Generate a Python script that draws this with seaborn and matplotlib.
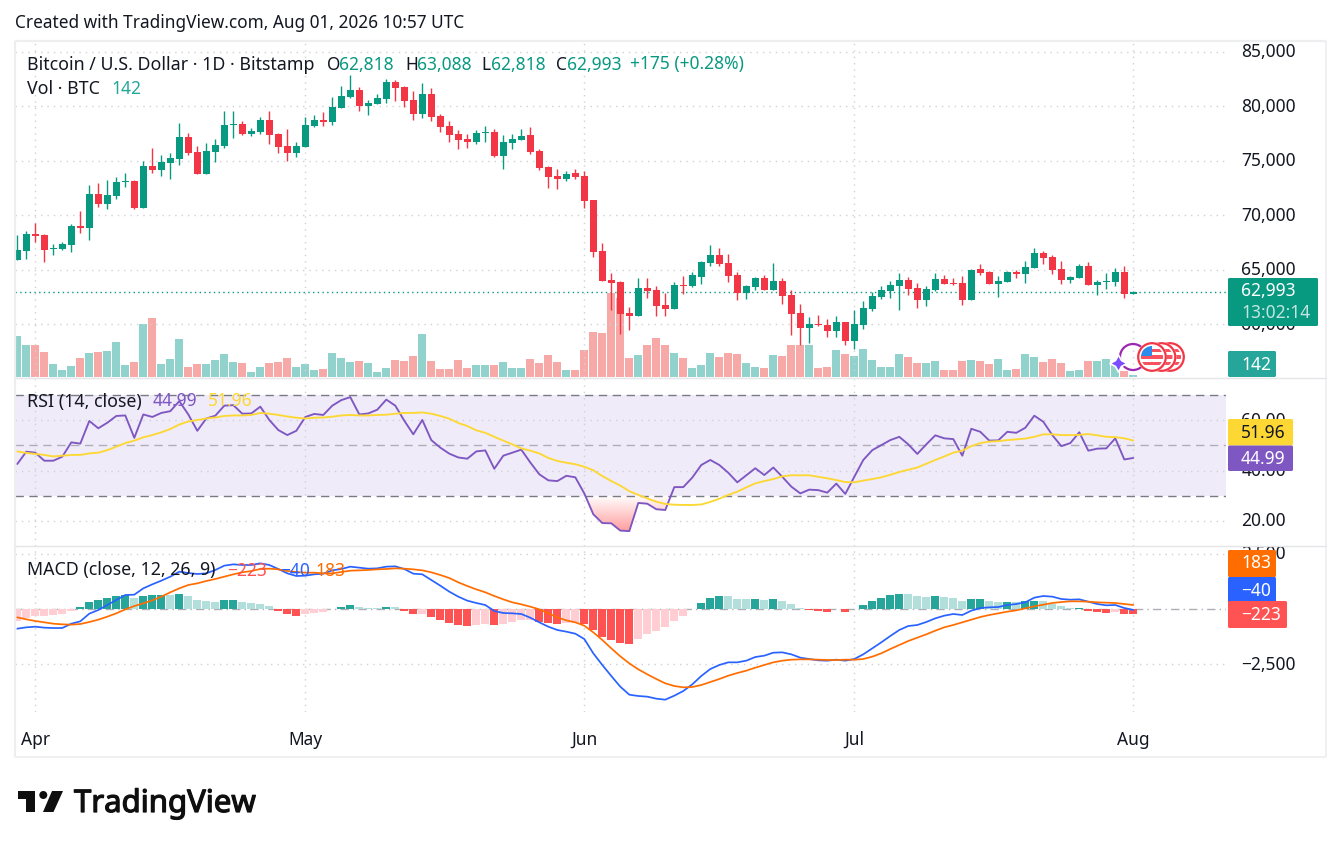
import numpy as np
import pandas as pd
import seaborn as sns
import matplotlib.pyplot as plt
import matplotlib.patheffects as pe
from matplotlib.colors import LinearSegmentedColormap
from matplotlib.patches import Circle, FancyBboxPatch, Polygon, Rectangle
from matplotlib.path import Path
from matplotlib.transforms import ScaledTranslation

# Daily candles, 30 Mar to 1 Aug
opens = [65900,66730,68280,68190,66910,66910,67280,69020,68840,71950,71040,71770,73060,73150,70670,74520,74160,74800,75170,77180,
         75810,73790,75810,76360,78280,78380,77460,77640,78740,77460,76360,75720,76270,78190,78740,78560,79840,80850,81500,80030,
         80210,80670,82230,81770,80580,79290,81130,79110,78190,77460,77000,76730,77550,77640,75440,76630,76910,77370,75900,74430,
         73610,73330,73880,73610,71400,66730,64070,63880,61040,60760,63330,63150,61770,61400,63610,63510,64340,65620,66360,65620,
         64520,62870,63420,64250,63150,63970,62690,61040,59660,60030,59940,59390,60210,58470,59940,61400,62510,63060,63510,64070,
         63330,62230,63150,64160,63790,63790,62230,65070,64800,63700,63880,64800,64610,65160,66540,66170,65070,64070,64250,65350,
         63610,63910,63880,64800,62818]
highs = [68190,68560,69290,68280,67370,67550,69200,70390,72780,72960,73240,73510,73880,73240,74980,76170,75530,75720,78470,77550,
         76360,76630,77000,79570,79570,78650,78010,79020,79570,77550,77920,76730,79020,79200,79480,80850,81860,82870,81770,80580,
         81130,82500,82410,81860,81400,82140,81680,79290,78650,77830,77460,77830,78190,77920,77370,77460,77920,78100,76080,74520,
         74250,74060,74250,74060,71400,67460,64710,63970,61590,64250,64250,63510,62870,63880,64430,64800,65810,67280,67000,66450,
         64800,63610,64340,64520,65620,64250,63150,61860,60670,60850,60490,60760,60210,61310,62140,62960,63510,63970,64710,64340,
         63790,63510,64710,64520,64250,64430,65070,65530,64890,64430,64890,64980,65810,67000,66730,66360,65810,64430,65530,65720,
         64070,64710,65170,65350,63088]
lows = [65900,65990,67550,65720,66360,66820,66630,68380,67730,70760,70580,71500,72600,70580,70670,73880,73610,73330,74620,75530,
        73790,73790,74890,76170,77090,77370,77280,77460,76540,75720,74980,75350,76270,78100,78190,78280,79840,80760,79570,79200,
        80210,80300,80490,79940,78740,78930,78650,77640,76730,76080,76170,76540,76730,75350,74250,76080,76910,75620,74160,72510,
        72410,73150,73330,70670,66170,63970,61310,59110,59480,60760,62410,60760,60760,61400,62780,63420,63700,65350,65350,63880,
        62230,62320,63150,63150,63150,61860,59020,58100,58290,59850,58840,58840,58100,57740,59570,61220,62320,62410,61310,62690,
        61500,61680,63060,63700,63610,61770,62230,64520,63700,62510,63880,64250,63790,65170,65530,64610,63700,63790,64250,63610,
        62690,63240,63510,62410,62818]
closes = [66820,68280,68100,66820,67000,67370,69020,68840,71950,71040,71860,73060,73150,70670,74520,74160,74890,75260,77180,75720,
          73790,75900,76450,78280,78340,77460,77730,78740,77370,76270,75720,76360,78280,78740,78560,79940,80950,81500,80030,80300,
          80760,82230,81680,80490,79290,81130,79020,78100,77370,76910,76730,77550,77640,75440,76730,77000,77280,75810,74340,73510,
          73330,73790,73510,71310,66630,63970,63790,60950,60760,63330,63060,61680,61400,63610,63510,64520,65720,66360,65530,64430,
          62870,63510,64250,63150,63970,62600,60950,59660,60030,59940,59390,60210,58470,60030,61500,62600,63150,63610,64070,63240,
          62230,63240,64160,63700,63700,62230,64980,64710,63700,63970,64800,64610,65260,66540,66080,64980,64070,64340,65350,63610,
          63880,63970,64800,62780,62993]
volume = [2460,1920,1920,1500,780,420,660,1140,1440,1500,1560,2100,720,900,3180,3540,780,1080,2280,600,
          780,780,1020,1380,900,840,300,600,840,900,1140,600,780,420,480,1440,1140,900,960,840,
          300,540,1020,960,1260,2580,960,480,480,1020,540,720,720,720,900,540,540,1080,840,1320,
          900,420,420,1620,2700,2640,5040,4740,1140,1320,1920,2340,1920,1440,1140,540,720,1440,1200,1440,
          1380,840,600,540,1320,1260,1920,1920,1920,540,600,1620,1380,1260,1680,1020,600,600,1380,1200,
          840,840,960,420,420,960,1020,960,780,1080,420,480,1380,1200,900,1080,840,360,420,960,
          960,1080,720,360,142]

rsi = [42.6,47.5,47.1,43.9,43.9,45.5,51.2,50.7,59.7,56.8,59.0,61.7,61.9,53.0,62.3,61.3,62.9,63.6,67.6,62.3,
       55.8,60.7,61.8,65.8,66.0,62.6,62.7,65.4,60.1,56.1,54.1,55.8,61.3,62.5,62.1,65.8,68.0,69.2,62.3,62.7,
       64.2,68.2,65.8,59.8,54.4,60.1,52.1,49.1,46.7,45.2,44.7,47.6,48.0,40.7,45.9,47.1,48.3,43.2,38.5,36.1,
       35.8,37.9,37.3,30.9,22.6,19.1,19.0,16.1,15.9,27.1,26.8,24.6,24.3,33.4,33.4,37.2,42.2,44.2,42.2,39.1,
       35.3,38.1,40.9,38.2,41.2,37.5,33.6,30.9,32.4,32.2,31.2,34.8,30.7,37.5,44.2,48.1,50.1,52.1,53.4,50.4,
       46.6,50.4,54.0,52.8,52.5,45.9,56.6,55.4,51.9,52.0,55.4,55.0,57.0,61.8,59.4,54.1,49.7,50.9,55.2,47.9,
       48.7,48.8,52.8,44.4,44.99]
rsi_ma = [47.6,47.0,46.6,46.2,45.6,45.9,46.2,46.2,46.8,47.1,48.1,49.5,50.9,51.9,53.2,54.1,55.2,56.5,58.3,59.5,
          60.1,60.7,61.1,61.7,61.9,61.9,62.1,62.9,62.6,62.1,61.5,61.0,60.7,61.0,61.1,61.4,61.9,62.1,61.9,61.9,
          62.1,62.2,62.6,62.9,62.9,63.1,62.6,61.7,60.6,58.9,57.7,56.0,55.0,53.4,51.9,50.4,48.8,47.9,46.8,45.0,
          43.8,43.1,42.5,41.5,40.1,37.8,35.8,34.0,31.8,30.3,28.9,27.6,26.7,26.4,26.3,26.3,26.5,27.5,28.8,30.3,
          31.6,33.3,34.9,35.8,36.6,37.7,38.1,38.1,38.1,37.5,36.9,36.2,35.4,35.3,36.0,36.6,37.3,38.3,39.4,40.3,
          41.2,42.7,44.2,45.6,47.1,47.9,49.7,50.9,51.5,51.7,52.1,52.4,52.7,53.4,54.4,54.4,54.1,54.1,54.2,54.5,
          54.0,53.4,53.3,52.8,51.96]

macd = [-894,-833,-803,-848,-864,-864,-667,-561,-212,-45,182,409,636,651,939,1121,1288,1470,1697,1636,
        1591,1621,1773,1970,2030,2000,2000,2076,2000,1818,1621,1500,1515,1576,1606,1757,1818,1924,1879,1833,
        1848,1924,1939,1818,1606,1576,1318,1060,788,561,379,273,182,-91,-182,-197,-227,-394,-606,-803,
        -954,-1030,-1121,-1364,-2015,-2545,-3045,-3530,-3894,-3954,-3984,-4075,-4121,-3939,-3727,-3424,-3045,-2727,-2545,-2424,
        -2424,-2348,-2182,-2121,-1985,-1970,-2060,-2212,-2273,-2333,-2348,-2303,-2348,-2273,-2060,-1788,-1515,-1227,-954,-773,
        -727,-591,-424,-303,-227,-273,-76,45,76,91,182,227,303,515,591,561,455,424,439,333,
        227,167,182,45,-40]
signal = [-379,-470,-545,-606,-667,-697,-712,-682,-591,-485,-348,-197,-15,136,258,394,561,758,939,1091,
          1167,1273,1364,1470,1576,1667,1727,1818,1833,1803,1727,1682,1651,1651,1621,1621,1682,1742,1757,1773,
          1803,1818,1848,1833,1803,1757,1667,1545,1409,1212,1045,894,758,591,439,303,212,106,-15,-197,
          -379,-515,-606,-758,-1061,-1409,-1788,-2151,-2470,-2742,-2969,-3182,-3378,-3500,-3560,-3545,-3454,-3318,-3182,-3030,
          -2909,-2803,-2666,-2545,-2424,-2348,-2303,-2288,-2288,-2303,-2318,-2318,-2303,-2303,-2273,-2166,-2015,-1818,-1636,-1454,
          -1303,-1151,-985,-833,-727,-606,-485,-364,-273,-197,-121,-61,30,121,197,273,318,348,348,333,
          303,288,273,227,183]
hist = [-545,-424,-333,-303,-273,-227,-91,91,318,409,500,591,651,515,606,621,651,636,682,591,
        409,364,318,409,424,318,273,227,136,-91,-227,-318,-227,-182,-136,15,91,182,91,45,
        30,91,76,-76,-227,-212,-364,-500,-636,-727,-773,-712,-697,-727,-697,-606,-515,-485,-606,-636,
        -682,-636,-621,-697,-970,-1273,-1409,-1545,-1591,-1364,-1136,-1000,-818,-545,-318,15,273,500,591,576,
        455,439,455,409,455,364,227,45,-30,-76,-121,15,-121,15,182,364,500,636,682,667,
        591,545,591,545,500,364,455,470,364,318,333,303,364,379,364,227,136,45,61,-76,
        -136,-182,-136,-210,-223]

price_ticks = [60000, 65000, 70000, 75000, 80000, 85000]
rsi_ticks = [20, 40, 60]
macd_ticks = [-2500, 2500]

W, H = 1341, 847
GREEN, RED = "#089981", "#F23645"
TEXT = "#131722"
FONT = ["Noto Sans", "DejaVu Sans"]
FS = 12.5

sns.set_theme(style="white")
plt.rcParams["font.family"] = FONT
plt.rcParams["axes.unicode_minus"] = True

dates = pd.date_range("2026-03-30", periods=len(closes))
df = pd.DataFrame({"i": np.arange(len(closes)), "open": opens, "high": highs, "low": lows, "close": closes,
                   "volume": volume, "rsi": rsi, "rsi_ma": rsi_ma, "macd": macd, "signal": signal, "hist": hist})
df["up"] = df["close"] >= df["open"]
df["vol_color"] = np.where(df["up"], "#92D2CC", "#F7A9A7")
# macd histogram colours follow the usual rising / falling rule
rising = df["hist"].diff().fillna(1) > 0
df["hist_color"] = np.select(
    [(df["hist"] >= 0) & rising, df["hist"] >= 0, rising],
    ["#26A69A", "#B2DFDB", "#FFCDD2"], default="#FF5252")

month_starts = df["i"][dates.day == 1].tolist()
month_labels = [d.strftime("%b") for d in dates[dates.day == 1]]

fig = plt.figure(figsize=(W / 100, H / 100), dpi=100, facecolor="white")
up_shift = ScaledTranslation(0, 1.5 / 100, fig.dpi_scale_trans)


def pane(top, bottom, ylim, yticks, fmt):
    ax = fig.add_axes([15 / W, 1 - bottom / H, (1226 - 15) / W, (bottom - top) / H])
    ax.patch.set_visible(False)
    ax.set_xlim(-0.256, 134.3)
    ax.set_ylim(*ylim)
    ax.set_xticks(month_starts)
    ax.set_yticks(yticks)
    ax.set_yticklabels([fmt(v).replace("-", "\u2212") for v in yticks], fontsize=FS, color=TEXT)
    ax.yaxis.tick_right()
    ax.tick_params(axis="y", length=0, pad=11)
    ax.tick_params(axis="x", length=0, labelbottom=False)
    for lab in ax.get_yticklabels():
        lab.set_transform(lab.get_transform() + up_shift)
    ax.grid(True, color="#cfd1d6", linestyle=(0, (1, 3.6)), linewidth=1.0)
    ax.set_axisbelow(True)
    ax.set_xlabel("")
    ax.set_ylabel("")
    sns.despine(ax=ax, left=True, bottom=True, right=True, top=True)
    return ax


# price pane with the volume bars under it
ax_vol = fig.add_axes([15 / W, 1 - 377 / H, (1226 - 15) / W, (377 - 42) / H])
sns.barplot(data=df, x="i", y="volume", hue="vol_color", palette={c: c for c in df["vol_color"].unique()},
            dodge=False, native_scale=True, width=0.88, saturation=1, legend=False, linewidth=0, edgecolor="none", ax=ax_vol)
ax_vol.set_xlim(-0.256, 134.3)
ax_vol.set_ylim(0, 20100)
ax_vol.axis("off")

ax = pane(42, 377, (55166, 85899), price_ticks, lambda v: f"{v:,}")
ax.vlines(df["i"], df["low"], df["high"], colors=np.where(df["up"], GREEN, RED), linewidth=1.0, zorder=3)
ax.bar(df["i"], (df["close"] - df["open"]).abs().clip(lower=45), bottom=df[["open", "close"]].min(axis=1),
       width=0.78, color=np.where(df["up"], GREEN, RED), linewidth=0, edgecolor="none", zorder=4)
ax.axhline(closes[-1], color=GREEN, linestyle=(0, (1, 2.4)), linewidth=1.0, zorder=2)

# rsi pane
ax_r = pane(379, 546, (9.98, 76.4), rsi_ticks, lambda v: f"{v:.2f}")
ax_r.axhspan(30, 70, color="#7E57C2", alpha=0.115, linewidth=0, zorder=0)
ax_r.axhline(70, color="#787B86", linestyle=(0, (6, 4)), linewidth=1.0)
ax_r.axhline(30, color="#787B86", linestyle=(0, (6, 4)), linewidth=1.0)
ax_r.axhline(50, color="#787B86", alpha=0.55, linestyle=(0, (6, 4)), linewidth=1.0)
under = ax_r.fill_between(df["i"], df["rsi"], 30, where=df["rsi"] < 30, interpolate=True, facecolor="none", linewidth=0)
grad = ax_r.imshow(np.linspace(0, 1, 64).reshape(-1, 1), extent=[0, 124, 30, 15.5], aspect="auto", origin="lower",
                   cmap=LinearSegmentedColormap.from_list("os", ["#FFFFFF", "#FF9C9C"]), zorder=1)
grad.set_clip_path(Path.make_compound_path(*under.get_paths()), transform=ax_r.transData)
sns.lineplot(data=df, x="i", y="rsi", color="#7E57C2", linewidth=1.35, errorbar=None, ax=ax_r, zorder=3)
sns.lineplot(data=df, x="i", y="rsi_ma", color="#FDD835", linewidth=1.35, errorbar=None, ax=ax_r, zorder=3)
ax_r.set_xlim(-0.256, 134.3)
ax_r.set_ylim(9.98, 76.4)
ax_r.set_xlabel("")
ax_r.set_ylabel("")

# macd pane
ax_m = pane(547, 712, (-4681, 2818), macd_ticks, lambda v: f"{v:,}")
ax_m.axhline(0, color="#787B86", alpha=0.6, linestyle=(0, (6, 3, 1, 3)), linewidth=1.0, zorder=1)
sns.barplot(data=df, x="i", y="hist", hue="hist_color", palette={c: c for c in df["hist_color"].unique()},
            dodge=False, native_scale=True, width=0.88, saturation=1, legend=False, linewidth=0, edgecolor="none", ax=ax_m, zorder=2)
sns.lineplot(data=df, x="i", y="macd", color="#2962FF", linewidth=1.25, errorbar=None, ax=ax_m, zorder=3)
sns.lineplot(data=df, x="i", y="signal", color="#FF6D00", linewidth=1.25, errorbar=None, ax=ax_m, zorder=3)
ax_m.set_xlim(-0.256, 134.3)
ax_m.set_ylim(-4681, 2818)
ax_m.set_xlabel("")
ax_m.set_ylabel("")
ax_m.set_xticks(month_starts)
ax_m.set_xticklabels(month_labels, fontsize=FS, color=TEXT, fontweight="medium")
ax_m.tick_params(axis="x", labelbottom=True, pad=13.5)

# overlay in pixels: frame, legends, price tags, logo
ov = fig.add_axes([0, 0, 1, 1], zorder=10)
ov.set_xlim(0, W)
ov.set_ylim(H, 0)
ov.axis("off")


def label(x, y, s, color=TEXT, size=FS, **kw):
    ov.text(x, y + 1.5, s, color=color, fontsize=size, va="center", ha="left", **kw)


def tag(x0, x1, y0, y1, color, lines):
    ov.add_patch(FancyBboxPatch((x0, y0), x1 - x0, y1 - y0, boxstyle="round,pad=0,rounding_size=1.5", fc=color, ec="none"))
    for ty, s, c in lines:
        label(x0 + 13, ty, s, color=c)


for xs, ys, c, lw in [((15, 1326), (41, 41), "#edeef0", 1.6), ((15, 1326), (757, 757), "#edeef0", 1.2),
                      ((15, 15), (41, 757), "#edeef0", 1.6), ((1326, 1326), (41, 757), "#edeef0", 1.2),
                      ((15, 1326), (378, 378), "#e4e5e8", 1.0), ((15, 1326), (546, 546), "#e4e5e8", 1.0)]:
    ov.plot(xs, ys, color=c, linewidth=lw, solid_capstyle="butt")

label(15, 22, "Created with TradingView.com, Aug 01, 2026 10:57 UTC", size=12.4)

label(27, 63, "Bitcoin / U.S. Dollar \u00b7 1D \u00b7 Bitstamp", size=12.8)
for x, s, c in [(327, "O", TEXT), (339, "62,818", GREEN), (405, "H", TEXT), (417, "63,088", GREEN), (481, "L", TEXT),
                (491, "62,818", GREEN), (556, "C", TEXT), (567, "62,993", GREEN), (630, "+175 (+0.28%)", GREEN)]:
    label(x, 63, s, color=c)
label(27, 88, "Vol \u00b7 BTC", size=12.8)
label(111, 88, "142", color="#26A69A")

label(27, 400, "RSI (14, close)", size=12.8)
label(153, 400, "44.99", color="#7E57C2")
label(208, 400, "51.96", color="#FDD835")

label(27, 569, "MACD (close, 12, 26, 9)", size=12.8)
label(227, 569, "\u2212223", color="#FF5252")
label(280, 569, "\u221240", color="#2962FF")
label(315, 569, "183", color="#FF6D00")

tag(1228, 1318, 278, 326, "#089981", [(290, "62,993", "white"), (311, "13:02:14", "#c4e5df")])
tag(1228, 1276, 351, 377, "#26A69A", [(363, "142", "white")])
tag(1228, 1293, 419, 445.5, "#FDD835", [(431, "51.96", TEXT)])
tag(1228, 1293, 445.5, 471, "#7E57C2", [(457, "44.99", "white")])
tag(1228, 1276, 550, 577, "#FF6D00", [(562, "183", "white")])
tag(1228, 1276, 577, 603, "#2962FF", [(589, "\u221240", "white")])
tag(1228, 1287, 601, 628, "#FF5252", [(614, "\u2212223", "white")])

# event markers on the last bars
ov.add_patch(Circle((1133, 357), 13, fc="none", ec="#9C27B0", lw=1.6))
ov.scatter([1118], [363], marker=(4, 1, 0), s=150, color="#7C4DFF", edgecolors="white", linewidths=1.2, zorder=3)
z = 4
for cx in (1170, 1161.5, 1152):
    ov.add_patch(Circle((cx, 357), 15, fc="white", ec="none", zorder=z))
    ov.add_patch(Circle((cx, 357), 13.8, fc="white", ec="#F23645", lw=1.6, zorder=z))
    clip = Circle((cx, 357), 11, transform=ov.transData)
    for sy in (349, 355.5, 362):
        stripe = Rectangle((cx - 12, sy), 24, 3.4, fc="#F7525F", ec="none", zorder=z + 1)
        ov.add_patch(stripe)
        stripe.set_clip_path(clip)
    canton = Rectangle((cx - 12, 346), 12, 10.5, fc="#2D8CEB", ec="none", zorder=z + 2)
    ov.add_patch(canton)
    canton.set_clip_path(clip)
    z += 3

# logo
ov.add_patch(Polygon([(18, 791), (35, 791), (35, 812), (26, 812), (26, 799), (18, 799)], fc="#0F0F0F", ec="none"))
ov.add_patch(Circle((43.3, 795), 4, fc="#0F0F0F", ec="none"))
ov.add_patch(Polygon([(52, 791), (63, 791), (53.5, 812), (43, 812)], fc="#0F0F0F", ec="none"))
ov.text(74, 812, "TradingView", color="#0F0F0F", fontsize=22.4, va="baseline", ha="left",
        path_effects=[pe.withStroke(linewidth=0.9, foreground="#0F0F0F")])

fig.savefig("out.png", dpi=100, facecolor="white")
